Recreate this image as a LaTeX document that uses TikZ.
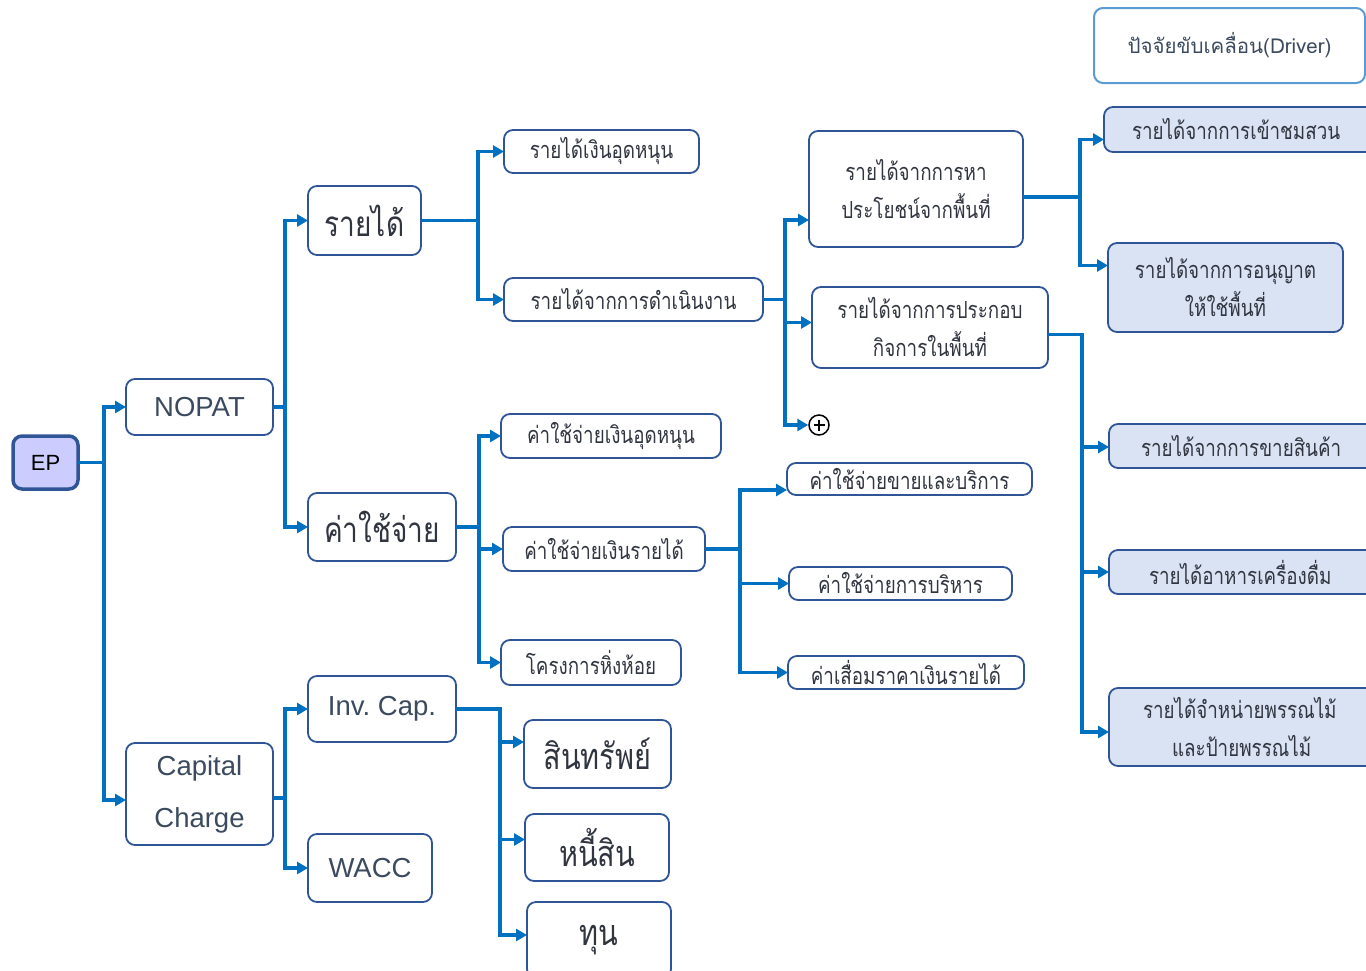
\documentclass[tikz,border=0pt]{standalone}
\usepackage{fontspec}
\setmainfont[Script=Thai,FakeStretch=0.8]{Loma}
\newfontfamily\hdf[Script=Thai]{Loma}
\newfontfamily\lat{Liberation Sans}
\usetikzlibrary{arrows.meta}
\definecolor{ln}{HTML}{0070C0}
\definecolor{bd}{HTML}{2F5597}
\definecolor{tx}{HTML}{303540}
\definecolor{ltx}{HTML}{3B4A5E}
\definecolor{epfill}{HTML}{CCCCFF}
\definecolor{drvfill}{HTML}{DAE3F3}
\definecolor{hdr}{HTML}{5B9BD5}
\begin{document}
\begin{tikzpicture}[x=1pt,y=-1pt,
  box/.style={draw=bd, line width=1.8pt, rounded corners=9pt, fill=white, text=tx, align=center, inner sep=0pt, outer sep=0pt, anchor=north west},
  drv/.style={box, fill=drvfill},
  sm/.style={font=\fontsize{23.5}{38}\selectfont},
  lg/.style={font=\fontsize{35}{40}\selectfont},
  md/.style={font=\fontsize{36}{38}\selectfont},
  la/.style={font=\lat\fontsize{27.5}{52}\selectfont, text=ltx},
  conn/.style={draw=ln, line width=3.5pt},
  arr/.style={conn, -{Triangle[length=11pt,width=12pt]}}]
\useasboundingbox (0,0) rectangle (1366,970);
\clip (0,0) rectangle (1366,970);
% header
\node[box, draw=hdr, line width=2pt, font=\hdf\fontsize{20.5}{26}\selectfont, text=ltx, minimum width=271pt, minimum height=75pt] (hd) at (1094,8) {ปัจจัยขับเคลื่อน(Driver)};
% level 0
\node[box, fill=epfill, line width=3.5pt, minimum width=65pt, minimum height=53pt, font=\lat\fontsize{22}{26}\selectfont, text=black] (ep) at (13,436) {\raisebox{-3pt}{EP}};
% level 1
\node[box, la, minimum width=147pt, minimum height=56pt] (nopat) at (126,379) {\raisebox{-2pt}{NOPAT}};
\node[box, la, minimum width=147pt, minimum height=102pt] (cap) at (126,743) {Capital\\Charge};
% level 2
\node[box, lg, minimum width=113pt, minimum height=69pt] (rev) at (308,186) {รายได้};
\node[box, lg, minimum width=148pt, minimum height=68pt] (exp) at (308,493) {ค่าใช้จ่าย};
\node[box, la, minimum width=148pt, minimum height=66pt] (inv) at (308,676) {\raisebox{-2pt}{Inv.\ Cap.}};
\node[box, la, minimum width=124pt, minimum height=68pt] (wacc) at (308,834) {WACC};
% level 3
\node[box, sm, minimum width=195pt, minimum height=43pt] (sub) at (504,130) {รายได้เงินอุดหนุน};
\node[box, sm, minimum width=259pt, minimum height=43pt] (opr) at (504,278) {รายได้จากการดำเนินงาน};
\node[box, sm, minimum width=220pt, minimum height=44pt] (exsub) at (501,414) {ค่าใช้จ่ายเงินอุดหนุน};
\node[box, sm, minimum width=202pt, minimum height=44pt] (exr) at (503,527) {ค่าใช้จ่ายเงินรายได้};
\node[box, sm, minimum width=180pt, minimum height=45pt] (ff) at (501,640) {โครงการหิ่งห้อย};
\node[box, md, minimum width=147pt, minimum height=68pt] (asset) at (524,720) {สินทรัพย์};
\node[box, md, minimum width=144pt, minimum height=67pt] (debt) at (525,814) {หนี้สิน};
\node[box, md, minimum width=144pt, minimum height=76pt] (eq) at (527,902) {ทุน};
% level 4
\node[box, sm, minimum width=214pt, minimum height=116pt] (use) at (809,131) {รายได้จากการหา\\ประโยชน์จากพื้นที่};
\node[box, sm, minimum width=236pt, minimum height=81pt] (biz) at (812,287) {รายได้จากการประกอบ\\กิจการในพื้นที่};
\node[draw=black, line width=1.5pt, circle, minimum size=20pt, inner sep=0pt, fill=white] (plus) at (819,425) {};
\draw[line width=1.5pt] (plus.center) ++(-5.5,0) -- ++(11,0) (plus.center) ++(0,-5.5) -- ++(0,11);
\node[box, sm, minimum width=245pt, minimum height=32pt] (sell) at (787,463) {ค่าใช้จ่ายขายและบริการ};
\node[box, sm, minimum width=223pt, minimum height=33pt] (adm) at (789,567) {ค่าใช้จ่ายการบริหาร};
\node[box, sm, minimum width=236pt, minimum height=33pt] (dep) at (788,656) {ค่าเสื่อมราคาเงินรายได้};
% drivers
\node[drv, sm, minimum width=272pt, minimum height=45pt, text width=272pt, align=left] (d1) at (1104,107) {\hspace*{28pt}รายได้จากการเข้าชมสวน};
\node[drv, sm, minimum width=235pt, minimum height=89pt] (d2) at (1108,243) {รายได้จากการอนุญาต\\ให้ใช้พื้นที่};
\node[drv, sm, minimum width=272pt, minimum height=44pt, text width=272pt, align=left] (d3) at (1109,424) {\hspace*{32pt}รายได้จากการขายสินค้า};
\node[drv, sm, minimum width=272pt, minimum height=44pt, text width=272pt, align=left] (d4) at (1109,550) {\hspace*{40pt}รายได้อาหารเครื่องดื่ม};
\node[drv, sm, minimum width=272pt, minimum height=78pt, text width=272pt, align=left] (d5) at (1109,688) {\hspace*{34pt}รายได้จำหน่ายพรรณไม้\\\hspace*{63pt}และป้ายพรรณไม้};
% connectors
\draw[arr] (ep.east) -- ++(26,0) |- (nopat.west);
\draw[arr] (ep.east) -- ++(26,0) |- ([yshift=-6pt]cap.west);
\draw[arr] (nopat.east) -- ++(12,0) |- (rev.west);
\draw[arr] (nopat.east) -- ++(12,0) |- (exp.west);
\draw[arr] ([yshift=-4pt]cap.east) -- ++(12,0) |- (inv.west);
\draw[arr] ([yshift=-4pt]cap.east) -- ++(12,0) |- (wacc.west);
\draw[arr] (rev.east) -- ++(57,0) |- (sub.west);
\draw[arr] (rev.east) -- ++(57,0) |- (opr.west);
\draw[arr] (exp.east) -- ++(23,0) |- (exsub.west);
\draw[arr] (exp.east) -- ++(23,0) |- (exr.west);
\draw[arr] (exp.east) -- ++(23,0) |- (ff.west);
\draw[arr] (inv.east) -- ++(44,0) |- ([yshift=12pt]asset.west);
\draw[arr] (inv.east) -- ++(44,0) |- ([yshift=8pt]debt.west);
\draw[arr] (inv.east) -- ++(44,0) |- ([yshift=5pt]eq.west);
\draw[arr] (opr.east) -- ++(22,0) |- ([yshift=-31pt]use.west);
\draw[arr] (opr.east) -- ++(22,0) |- ([yshift=5pt]biz.west);
\draw[arr] (opr.east) -- ++(22,0) |- (plus.west);
\draw[arr] (exr.east) -- ++(35,0) |- ([yshift=-11pt]sell.west);
\draw[arr] (exr.east) -- ++(35,0) |- (adm.west);
\draw[arr] (exr.east) -- ++(35,0) |- (dep.west);
\draw[arr] ([yshift=-8pt]use.east) -- ++(57,0) |- ([yshift=-10pt]d1.west);
\draw[arr] ([yshift=-8pt]use.east) -- ++(57,0) |- ([yshift=22pt]d2.west);
\draw[arr] ([yshift=-7pt]biz.east) -- ++(34,0) |- ([yshift=-1pt]d3.west);
\draw[arr] ([yshift=-7pt]biz.east) -- ++(34,0) |- (d4.west);
\draw[arr] ([yshift=-7pt]biz.east) -- ++(34,0) |- ([yshift=-5pt]d5.west);
\end{tikzpicture}
\end{document}
